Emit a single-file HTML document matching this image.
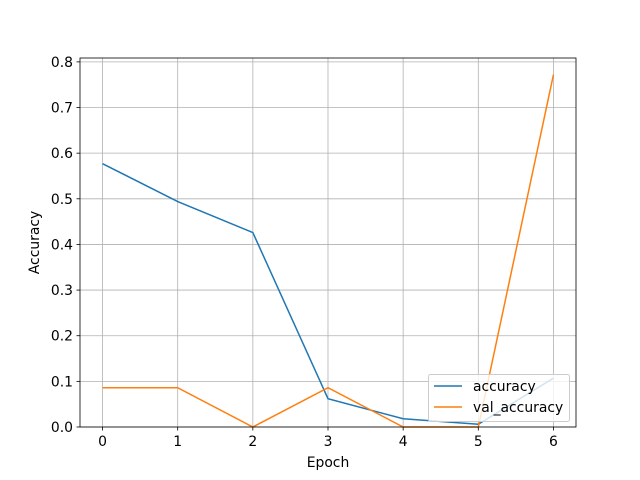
<!DOCTYPE html>
<html><head><meta charset="utf-8"><style>
body{margin:0;background:#fff;}
svg{display:block;font-family:"DejaVu Sans","Liberation Sans",sans-serif;}
</style></head><body>
<svg id="chart" width="640" height="480">
<rect width="640" height="480" fill="#fff"/>
<g id="grid"></g><g id="lines"></g><g id="axes"></g><g id="legend"></g>
</svg>
<script>
const epochs = [0,1,2,3,4,5,6];
const accuracy = [0.577,0.494,0.426,0.062,0.018,0.006,0.107];
const valAccuracy = [0.086,0.086,0.0,0.086,0.0,0.0,0.772];
const xTicks = [0,1,2,3,4,5,6];
const yTicks = [0,0.1,0.2,0.3,0.4,0.5,0.6,0.7,0.8];
const seriesNames = ["accuracy","val_accuracy"];
const colors = ["#1f77b4","#ff7f0e"];

const L=80,R=576,T=58,B=427;
const xMin=-0.3,xMax=6.3,yMin=0,yMax=0.8085;
const xs=v=>L+(v-xMin)/(xMax-xMin)*(R-L);
const ys=v=>B-(v-yMin)/(yMax-yMin)*(B-T);
const NS="http://www.w3.org/2000/svg";
const FS=13.9;
function mk(tag,attrs,parent,text){const e=document.createElementNS(NS,tag);for(const k in attrs)e.setAttribute(k,attrs[k]);if(text!==undefined)e.textContent=text;parent.appendChild(e);return e;}
const grid=document.getElementById('grid'),lines=document.getElementById('lines'),axes=document.getElementById('axes'),legend=document.getElementById('legend');

xTicks.forEach(t=>{
  const x=xs(t);
  const g=mk('line',{x1:x,x2:x,y1:T,y2:B,stroke:'#b0b0b0','stroke-width':0.8},grid);
  
  
  mk('line',{x1:x,x2:x,y1:B,y2:B+3.5,stroke:'#000','stroke-width':0.8},axes);
  const l=mk('text',{x:x,y:B+19,'font-size':FS,'text-anchor':'middle'},axes,String(t));
  
  
});
yTicks.forEach(t=>{
  const y=ys(t);
  const g=mk('line',{x1:L,x2:R,y1:y,y2:y,stroke:'#b0b0b0','stroke-width':0.8},grid);
  
  
  mk('line',{x1:L-3.5,x2:L,y1:y,y2:y,stroke:'#000','stroke-width':0.8},axes);
  const l=mk('text',{x:L-7,y:y+5,'font-size':FS,'text-anchor':'end'},axes,t.toFixed(1));
  
  
});
[accuracy,valAccuracy].forEach((s,i)=>{
  const p=mk('polyline',{points:s.map((v,j)=>xs(epochs[j])+','+ys(v)).join(' '),fill:'none',stroke:colors[i],'stroke-width':1.5},lines);
  
  
});
const frame=mk('rect',{x:L,y:T,width:R-L,height:B-T,fill:'none',stroke:'#000','stroke-width':0.8},axes);


const xt=mk('text',{x:(L+R)/2,y:467,'font-size':FS,'text-anchor':'middle'},axes,'Epoch');


const yt=mk('text',{x:0,y:0,'font-size':FS,'text-anchor':'middle',transform:'translate(39,'+((T+B)/2)+') rotate(-90)'},axes,'Accuracy');



const lb=mk('rect',{x:428.5,y:374.5,width:141,height:47,rx:2,fill:'#fff','fill-opacity':0.8,stroke:'#ccc','stroke-width':1},legend);


seriesNames.forEach((n,i)=>{
  const y=386+i*21;
  const ln=mk('line',{x1:434,x2:462,y1:y,y2:y,stroke:colors[i],'stroke-width':1.5},legend);
  
  
  const t=mk('text',{x:473,y:y+5,'font-size':FS},legend,n);
  
  
});
</script>
</body></html>
